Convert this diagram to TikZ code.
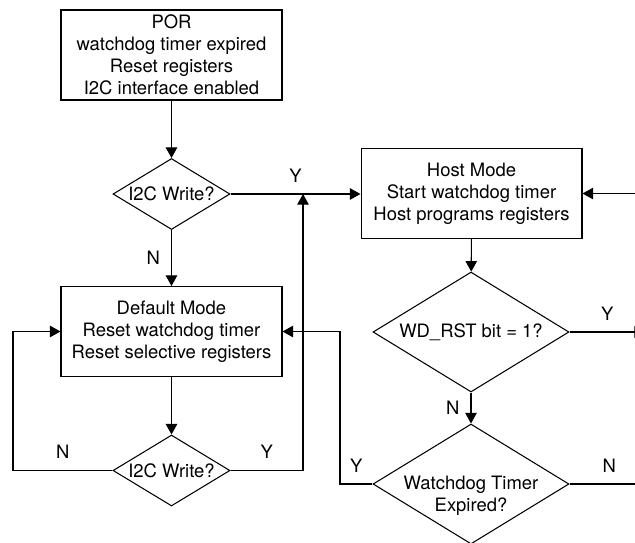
\documentclass[tikz,border=0pt]{standalone}
\usepackage{fontspec}
\setmainfont{TeX Gyre Heros}
\usetikzlibrary{shapes.geometric,arrows.meta}
\begin{document}
\begin{tikzpicture}[x=0.02cm, y=-0.02cm, line width=0.6pt]
	\tikzset{boite/.style={draw, rectangle, align=center, inner sep=0pt, minimum width=4.42cm, minimum height=1.8cm, font=\fontsize{10.5}{12.5}\selectfont},
		losange/.style={draw, diamond, aspect=1.7, inner sep=0pt, font=\fontsize{10.5}{12.5}\selectfont},
		fleche/.style={-{Triangle[length=6pt, width=6.5pt]}},
		etiq/.style={font=\fontsize{10.5}{12.5}\selectfont}};
	\useasboundingbox (0,0) rectangle (635,542);

	\node[boite] (por) at (171.5,  55) {POR\\watchdog timer expired\\Reset registers\\I2C interface enabled};
	\node[losange, minimum width=2.34cm, minimum height=1.42cm] (q1) at (171.5, 194) {I2C Write?};
	\node[boite] (def) at (171.5, 331.5) {Default Mode\\Reset watchdog timer\\Reset selective registers};
	\node[losange, minimum width=2.34cm, minimum height=1.42cm] (q2) at (171.5, 470.5) {I2C Write?};

	\node[boite] (host) at (471.5, 193.5) {Host Mode\\Start watchdog timer\\Host programs registers};
	\node[losange, minimum width=3.92cm, minimum height=2.4cm] (wd) at (471, 332) {WD\_RST bit = 1?};
	\node[losange, minimum width=3.92cm, minimum height=2.4cm] (we) at (471, 484) {};
	\node[etiq, align=center] (wet) at (471, 496) {Watchdog Timer\\Expired?};

	\coordinate (j1) at (303, 194);
	\coordinate (g1) at ( 13, 331.5);
	\coordinate (g2) at (340, 331.5);
	\coordinate (r1) at (660, 193.5);
	\coordinate (r2) at (645, 332);
	\coordinate (r3) at (660, 484);

	\draw[fleche] (por) -- (q1);
	\draw[fleche] (q1.east) -- node[etiq, above=3pt] {Y} (q1.east -| host.west);
	\draw[fleche] (q1) -- node[etiq, left=3pt] {N} (def);
	\draw[fleche] (def) -- (q2);
	\draw[fleche] (q2.west) -| node[etiq, pos=0.25, above=3pt] {N} (g1) -- (def.west);
	\draw[fleche] (q2.east) -| node[etiq, pos=0.25, above=3pt] {Y} (j1);

	\draw[fleche] (host) -- (wd);
	\draw[fleche] (wd) -- node[etiq, left=3pt] {N} (we);
	\draw[fleche] (wd.east) -- node[etiq, above=3pt] {Y} (r2);
	\draw (we.east) -- node[etiq, pos=0.44, above=3pt] {N} (r3);
	\draw[fleche] (we.west) -| node[etiq, pos=0.25, above=3pt] {Y} (g2) -- (def.east);
	\draw[fleche] (r1) -- (host.east);

\end{tikzpicture}
\end{document}
